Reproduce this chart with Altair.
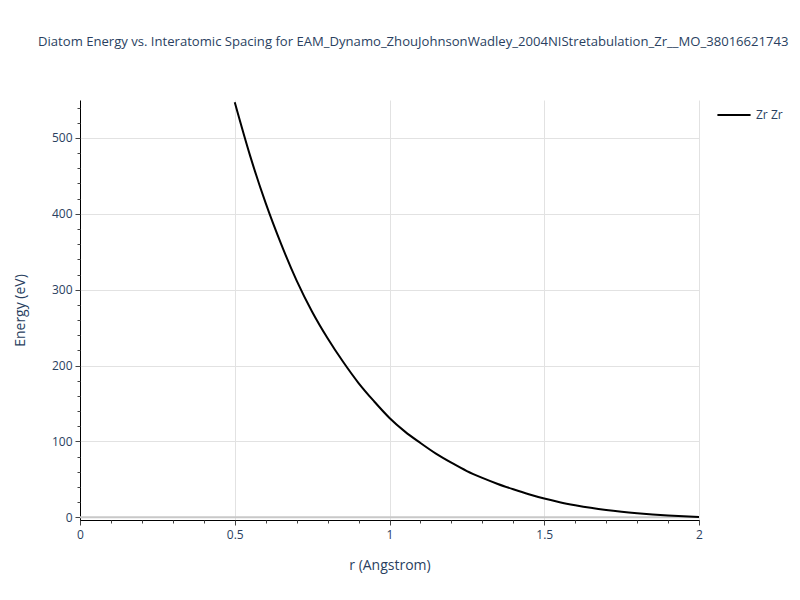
import altair as alt
import pandas as pd

r_vals = [0.50, 0.55, 0.60, 0.65, 0.70, 0.75, 0.80, 0.85, 0.90, 0.95,
          1.00, 1.05, 1.10, 1.15, 1.20, 1.25, 1.30, 1.35, 1.40, 1.45,
          1.50, 1.55, 1.60, 1.65, 1.70, 1.75, 1.80, 1.85, 1.90, 1.95, 2.00]
energy = [547, 476, 414, 360, 312, 271, 236, 205, 177, 153,
          131, 113, 98, 84, 72, 61, 52, 44, 37, 30.5,
          24.8, 20, 16, 12.5, 9.6, 7.3, 5.4, 3.8, 2.5, 1.4, 0.5]
series_name = "Zr Zr"

x_major = [0, 0.5, 1, 1.5, 2]
x_minor = [round(i * 0.1, 1) for i in range(21)]
y_major = [0, 100, 200, 300, 400, 500]
y_minor = list(range(0, 560, 20))

title_text = "Diatom Energy vs. Interatomic Spacing for EAM_Dynamo_ZhouJohnsonWadley_2004NIStretabulation_Zr__MO_38016621743"

df = pd.DataFrame({"r": r_vals, "E": energy, "pair": [series_name] * len(r_vals)})
zero_df = pd.DataFrame({"r0": [0], "r1": [2], "E": [0]})

FONT = "Open Sans"
TXT = "#2a3f5f"
xscale = alt.Scale(domain=[0, 2], nice=False, zero=False)
yscale = alt.Scale(domain=[-3.5, 550], nice=False, zero=False)

minor_axes = alt.Chart(zero_df).mark_point(opacity=0).encode(
    x=alt.X("r0:Q", scale=xscale, title=None,
            axis=alt.Axis(values=x_minor, labels=False, grid=False, domain=False,
                          tickSize=3, tickColor="#444", orient="bottom", title=None)),
    y=alt.Y("E:Q", scale=yscale, title=None,
            axis=alt.Axis(values=y_minor, labels=False, grid=False, domain=False,
                          tickSize=3, tickColor="#444", orient="left", title=None)),
)

zero_line = alt.Chart(zero_df).mark_rule(color="#c8c8c8", strokeWidth=2).encode(
    x=alt.X("r0:Q", scale=xscale,
            axis=alt.Axis(values=x_major, grid=True, gridColor="#e2e2e2", domainColor="#000",
                          tickColor="#444", tickSize=5, labelFont=FONT, labelFontSize=12,
                          labelColor=TXT, labelPadding=4, title="r (Angstrom)",
                          titleFont=FONT, titleFontSize=14, titleColor=TXT,
                          titleFontWeight="normal", titlePadding=18, orient="bottom",
                          format="~g", labelFlush=False)),
    x2="r1:Q",
    y=alt.Y("E:Q", scale=yscale,
            axis=alt.Axis(values=y_major, grid=True, gridColor="#e2e2e2", domainColor="#000",
                          tickColor="#444", tickSize=5, labelFont=FONT, labelFontSize=12,
                          labelColor=TXT, labelPadding=3, title="Energy (eV)",
                          titleFont=FONT, titleFontSize=14, titleColor=TXT,
                          titleFontWeight="normal", titlePadding=24, orient="left")),
)

line = alt.Chart(df).mark_line(strokeWidth=2, interpolate="monotone").encode(
    x=alt.X("r:Q", scale=xscale, axis=None),
    y=alt.Y("E:Q", scale=yscale, axis=None),
    color=alt.Color("pair:N", scale=alt.Scale(range=["#000000"]),
                    legend=alt.Legend(title=None, orient="none", legendX=636, legendY=-3,
                                      symbolType="stroke", symbolSize=1100,
                                      symbolStrokeWidth=2, labelFont=FONT,
                                      labelFontSize=12, labelColor=TXT, padding=0)),
)

chart = alt.layer(zero_line, minor_axes, line).resolve_axis(
    x="independent", y="independent"
).properties(
    width=619, height=420,
    autosize=alt.AutoSizeParams(type="none"),
    padding={"left": 72, "top": 92, "right": 93, "bottom": 72},
    title=alt.TitleParams(title_text, anchor="start", frame="group", dx=-42, offset=48,
                          font=FONT, fontSize=13.1, fontWeight="normal", color=TXT),
).configure_view(stroke=None)

chart.save("out.html", embed_options={"renderer": "svg", "actions": False})
